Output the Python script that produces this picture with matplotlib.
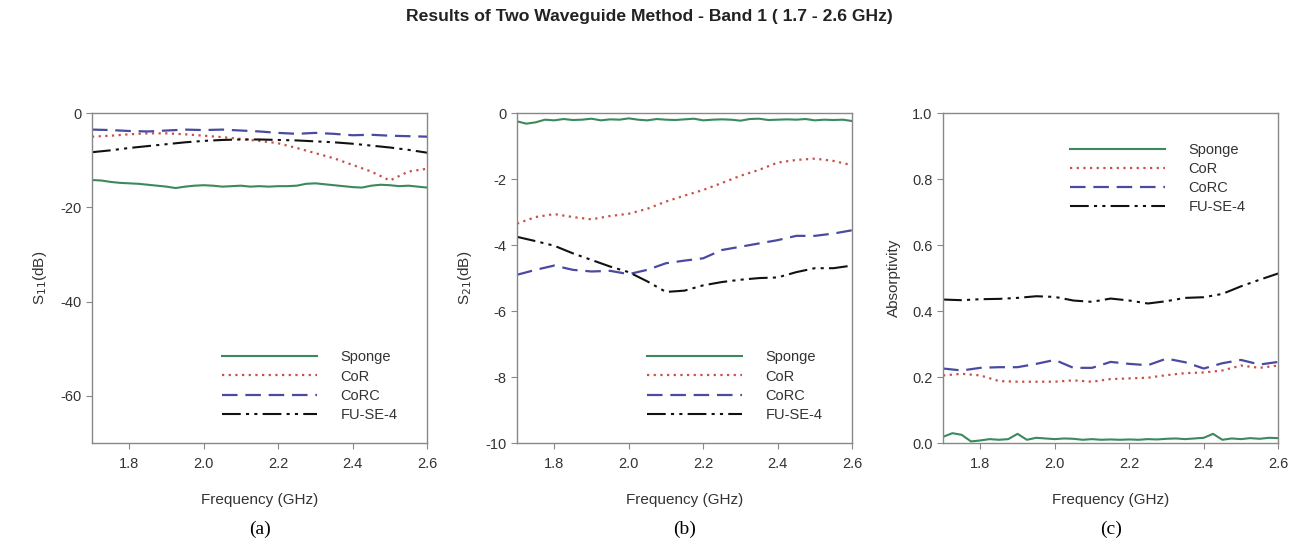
import numpy as np
import matplotlib
matplotlib.use("Agg")
import matplotlib.pyplot as plt

plt.rcParams["font.family"] = ["Liberation Sans", "DejaVu Sans"]
plt.rcParams["axes.unicode_minus"] = False

# frequency grids (GHz)
freq = np.round(np.arange(1.70, 2.601, 0.05), 3)
freq_fine = np.round(np.arange(1.70, 2.601, 0.025), 3)

# (a) S11 (dB)
s11_sponge = [-14.2, -14.3, -14.6, -14.8, -14.9, -15.0, -15.2, -15.4, -15.6, -15.9,
              -15.6, -15.4, -15.3, -15.4, -15.6, -15.5, -15.4, -15.6, -15.5, -15.6,
              -15.5, -15.5, -15.4, -15.0, -14.9, -15.1, -15.3, -15.5, -15.7, -15.8,
              -15.4, -15.2, -15.3, -15.5, -15.4, -15.6, -15.8]
s11_cor = [-5.0, -4.8, -4.5, -4.3, -4.3, -4.5, -4.8, -5.1, -5.5, -5.9,
           -6.4, -7.4, -8.5, -9.6, -11.0, -12.4, -14.3, -12.4, -11.8]
s11_corc = [-3.5, -3.6, -3.8, -3.9, -3.7, -3.5, -3.6, -3.5, -3.7, -3.9,
            -4.2, -4.4, -4.2, -4.4, -4.7, -4.6, -4.8, -4.9, -5.0]
s11_fu = [-8.3, -7.9, -7.4, -7.0, -6.6, -6.2, -5.9, -5.7, -5.6, -5.6,
          -5.7, -5.8, -6.0, -6.2, -6.5, -6.9, -7.3, -7.8, -8.4]

# (b) S21 (dB)
s21_sponge = [-0.25, -0.32, -0.28, -0.20, -0.22, -0.18, -0.21, -0.20, -0.17, -0.22,
              -0.19, -0.20, -0.16, -0.20, -0.22, -0.18, -0.20, -0.21, -0.19, -0.17,
              -0.22, -0.20, -0.19, -0.20, -0.23, -0.18, -0.17, -0.21, -0.20, -0.19,
              -0.20, -0.18, -0.22, -0.20, -0.21, -0.20, -0.24]
s21_cor = [-3.35, -3.15, -3.06, -3.15, -3.22, -3.12, -3.05, -2.90, -2.68, -2.50,
           -2.33, -2.12, -1.90, -1.72, -1.50, -1.42, -1.38, -1.45, -1.58]
s21_corc = [-4.90, -4.75, -4.62, -4.75, -4.80, -4.78, -4.88, -4.75, -4.55, -4.47,
            -4.40, -4.15, -4.05, -3.95, -3.85, -3.72, -3.72, -3.65, -3.55]
s21_fu = [-3.75, -3.88, -4.02, -4.25, -4.45, -4.65, -4.82, -5.10, -5.42, -5.38,
          -5.22, -5.12, -5.05, -5.00, -4.98, -4.82, -4.70, -4.70, -4.62]

# (c) absorptivity
abs_sponge = [0.019, 0.030, 0.025, 0.005, 0.008, 0.012, 0.010, 0.012, 0.028, 0.010,
              0.016, 0.014, 0.012, 0.014, 0.013, 0.010, 0.012, 0.010, 0.011, 0.010,
              0.011, 0.010, 0.012, 0.011, 0.013, 0.014, 0.012, 0.014, 0.016, 0.028,
              0.010, 0.014, 0.012, 0.015, 0.013, 0.016, 0.015]
abs_cor = [0.205, 0.210, 0.205, 0.188, 0.186, 0.186, 0.186, 0.190, 0.186, 0.194,
           0.196, 0.198, 0.206, 0.212, 0.214, 0.220, 0.235, 0.228, 0.235]
abs_corc = [0.226, 0.220, 0.228, 0.230, 0.230, 0.240, 0.252, 0.228, 0.228, 0.246,
            0.240, 0.236, 0.256, 0.245, 0.226, 0.242, 0.252, 0.238, 0.246]
abs_fu = [0.435, 0.433, 0.436, 0.437, 0.440, 0.445, 0.443, 0.432, 0.428, 0.438,
          0.432, 0.423, 0.430, 0.440, 0.442, 0.452, 0.475, 0.495, 0.514]

labels = ["Sponge", "CoR", "CoRC", "FU-SE-4"]
colors = ["#3a8a5c", "#c8504a", "#4a4aa0", "#111111"]
styles = ["-", (0, (1, 2)), (0, (7, 3.5)), (0, (9, 2.5, 1.5, 2.5, 1.5, 2.5))]

panels = [
    (s11_sponge, s11_cor, s11_corc, s11_fu, "S$_{11}$(dB)", (-70, 0), [-60, -40, -20, 0], "(a)"),
    (s21_sponge, s21_cor, s21_corc, s21_fu, "S$_{21}$(dB)", (-10, 0), [-10, -8, -6, -4, -2, 0], "(b)"),
    (abs_sponge, abs_cor, abs_corc, abs_fu, "Absorptivity", (0, 1), [0.0, 0.2, 0.4, 0.6, 0.8, 1.0], "(c)"),
]
lefts = [0.0708, 0.398, 0.726]
legend_pos = [("lower left", (0.35, 0.025)), ("lower left", (0.35, 0.025)), ("upper left", (0.34, 0.95))]

fig = plt.figure(figsize=(12.99, 5.45), dpi=100)
fig.text(0.5, 0.97, "Results of Two Waveguide Method - Band 1 ( 1.7 - 2.6 GHz)",
         ha="center", va="center", fontsize=12.6, fontweight="bold", color="#222222")

for i, (sp, cor, corc, fu, ylab, ylim, yticks, tag) in enumerate(panels):
    ax = fig.add_axes([lefts[i], 0.187, 0.258, 0.6055])
    ax.plot(freq_fine, sp, color=colors[0], linestyle=styles[0], lw=1.5, label=labels[0])
    ax.plot(freq, cor, color=colors[1], linestyle=styles[1], lw=1.6, label=labels[1])
    ax.plot(freq, corc, color=colors[2], linestyle=styles[2], lw=1.6, label=labels[2])
    ax.plot(freq, fu, color=colors[3], linestyle=styles[3], lw=1.5, label=labels[3])
    ax.set_xlim(1.7, 2.6)
    ax.set_ylim(*ylim)
    ax.set_xticks([1.8, 2.0, 2.2, 2.4, 2.6])
    ax.set_xticklabels(["1.8", "2.0", "2.2", "2.4", "2.6"])
    ax.set_yticks(yticks)
    if i == 2:
        ax.set_yticklabels([f"{v:.1f}" for v in yticks])
    for s in ax.spines.values():
        s.set_color("#888888")
        s.set_linewidth(1.0)
    ax.tick_params(direction="out", length=4, color="#888888", labelsize=10.5,
                   labelcolor="#333333", top=False, right=False)
    ax.tick_params(axis="x", pad=6)
    ax.set_xlabel("Frequency (GHz)", fontsize=11, color="#333333", labelpad=16)
    ax.set_ylabel(ylab, fontsize=11, color="#333333", labelpad=8)
    loc, anchor = legend_pos[i]
    ax.legend(loc=loc, bbox_to_anchor=anchor, frameon=False, fontsize=10.5,
              handlelength=6.5, handletextpad=1.6, labelspacing=0.35,
              labelcolor="#333333")
    fig.text(lefts[i] + 0.129, 0.028, tag, ha="center", va="center",
             fontsize=14, family=["Liberation Serif", "DejaVu Serif"])

fig.savefig("out.png", dpi=100)
